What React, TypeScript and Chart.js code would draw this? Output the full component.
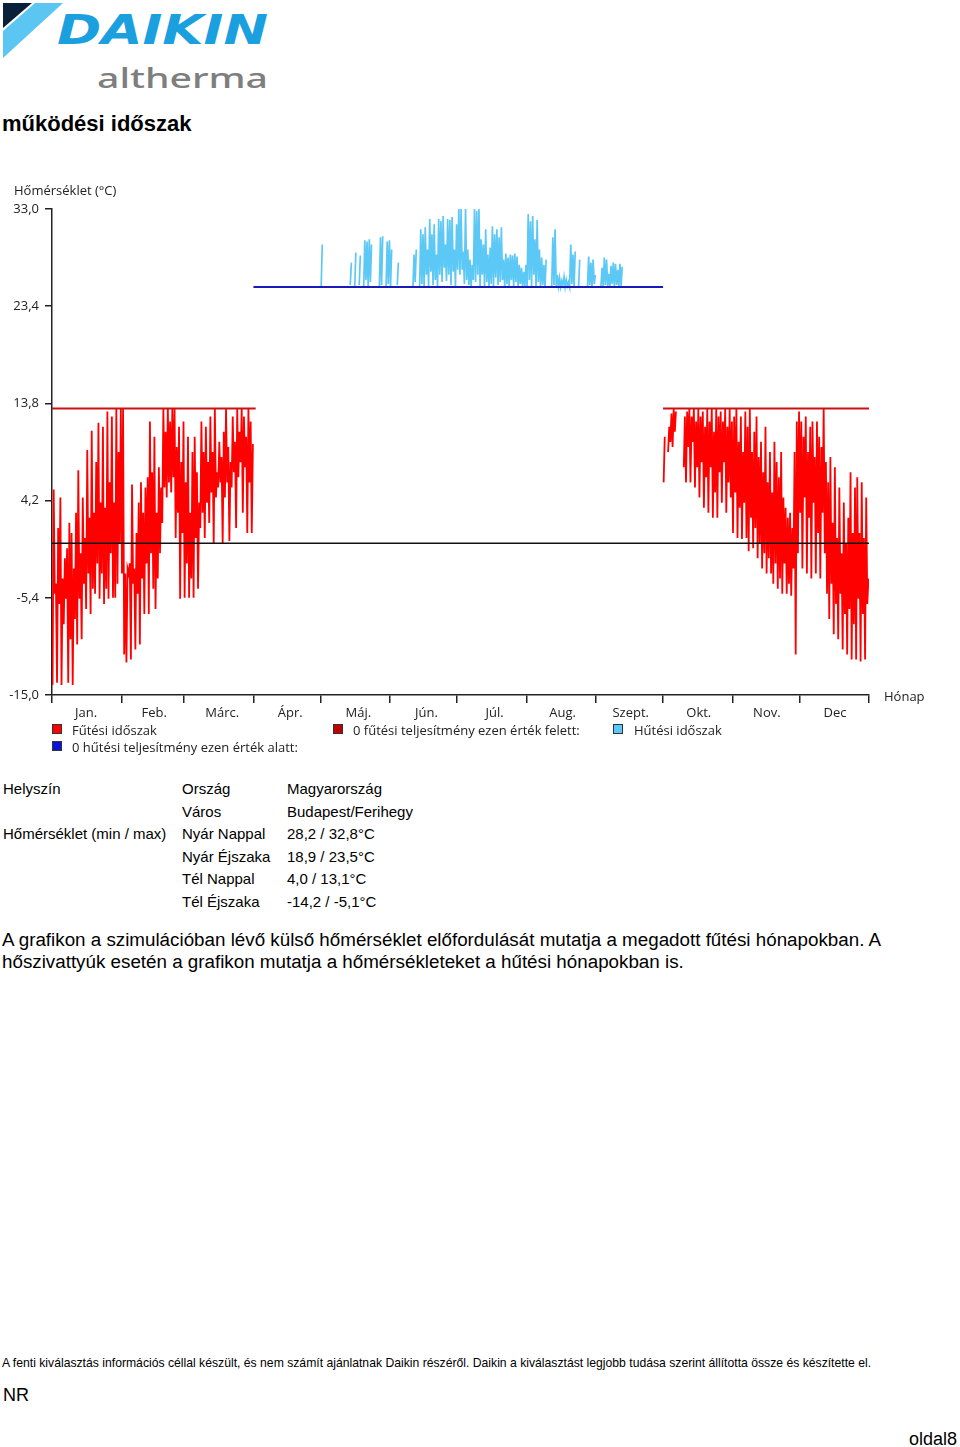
import React, { useEffect, useRef } from "react";
import { Chart, registerables } from "chart.js";

Chart.register(...registerables);

// ---------- data ----------
const months = ["Jan.", "Feb.", "Márc.", "Ápr.", "Máj.", "Jún.", "Júl.", "Aug.", "Szept.", "Okt.", "Nov.", "Dec"];
const monthStartDays = [0, 31, 59, 90, 120, 151, 181, 212, 243, 273, 304, 334, 365];
const yTickValues = [-15.0, -5.4, 4.2, 13.8, 23.4, 33.0];
const heatingLimit = 13.3;
const coolingLimit = 25.3;
const heatingSpringRange = [0, 91];
const heatingAutumnRange = [273, 365];
const coolingRange = [90, 273];

// daily [low, high] outdoor temperatures, heating season Jan–Mar (start day 0)
const heatingSpringStart = 0;
const heatingSpring: (number | null)[][] = [
  // Jan
  [-14.0, 5.3], [-5.0, -4.0], [-13.8, 1.5], [-6.0, 4.5], [-14.0, -3.5], [-8.0, -1.5], [-5.5, -0.5], [-13.8, 2.0],
  [-9.5, 1.0], [-14.0, -2.5], [-7.5, 3.0], [-10.0, 7.2], [-5.5, -1.0], [-9.5, 4.5], [-4.0, 0.5], [-6.5, 9.2],
  [-3.0, 2.5], [-7.0, 11.1], [-4.5, 3.0], [-5.0, 8.0], [-2.0, 11.9], [-5.5, 4.0], [-3.0, 11.5], [-6.0, 3.5],
  [-4.5, 13.0], [-5.5, 6.0], [-1.0, 12.5], [-5.4, 4.0], [-5.4, 13.3], [-4.0, 9.0], [0.0, 13.3],
  // Feb
  [-3.0, 13.3], [-11.0, -3.0], [-11.8, -2.5], [-3.0, -2.0], [-11.5, 5.8], [-4.0, -2.5], [-10.5, 1.0], [-5.0, 4.0],
  [-10.0, 6.0], [-3.5, 3.0], [-7.0, 5.5], [-2.0, 6.5], [-7.0, 12.0], [-1.0, 7.0], [-4.5, 10.5], [-6.5, 3.0],
  [-3.5, 7.5], [-1.0, 5.5], [2.0, 13.3], [5.5, 11.0], [4.5, 13.3], [6.0, 12.0], [5.0, 13.3], [6.5, 13.3],
  [0.5, 9.5], [3.0, 11.5], [-5.5, 8.0], [1.0, 12.0],
  // Mar
  [-5.4, 6.0], [-2.0, 10.5], [-5.4, 3.0], [-3.5, 9.0], [-5.4, 10.5], [0.5, 7.0], [-4.5, 4.0], [1.5, 12.0],
  [3.0, 9.0], [0.5, 11.5], [4.0, 8.0], [2.0, 12.5], [5.0, 9.0], [0.0, 13.3], [4.5, 7.0], [5.5, 10.0],
  [6.0, 8.5], [0.0, 11.0], [4.5, 13.3], [6.0, 9.5], [0.2, 8.0], [5.5, 12.5], [7.0, 10.0], [1.5, 13.3],
  [6.5, 11.0], [8.0, 13.3], [3.0, 12.5], [7.5, 10.5], [1.0, 13.3], [6.0, 12.0], [1.0, 9.8],
];

// daily [low, high] outdoor temperatures, heating season Oct–Dec (start day 273)
const heatingAutumnStart = 273;
const heatingAutumn: (number | null)[][] = [
  // Oct
  [6.0, 10.5], [null, null], [9.0, 11.5], [10.0, 12.8], [9.5, 13.3], [11.0, 13.0], [null, null], [null, null],
  [null, null], [7.5, 12.5], [6.0, 13.0], [9.5, 13.3], [6.0, 12.5], [10.0, 13.3], [5.5, 12.0], [7.5, 13.3],
  [4.5, 12.5], [8.0, 13.0], [3.5, 11.5], [6.5, 13.3], [3.0, 12.0], [7.5, 13.3], [2.5, 11.0], [5.0, 13.3],
  [2.5, 12.5], [7.0, 13.0], [4.0, 12.0], [8.0, 13.3], [3.0, 11.5], [6.0, 13.3], [4.5, 12.0],
  // Nov
  [1.0, 12.5], [5.0, 13.3], [0.5, 10.0], [3.5, 12.5], [0.4, 9.0], [4.0, 13.0], [0.5, 11.5], [-0.8, 13.3],
  [2.5, 9.0], [-0.5, 11.0], [1.5, 12.5], [-1.5, 8.5], [0.0, 10.0], [-2.5, 7.0], [-1.0, 11.5], [-3.0, 6.0],
  [-1.5, 9.0], [-3.0, 5.0], [-4.0, 10.0], [-2.0, 8.0], [-4.5, 6.5], [-3.5, 9.0], [-5.0, 4.5], [-2.0, 3.5],
  [-5.0, 2.5], [-4.0, 3.0], [-5.2, 1.5], [-2.5, 9.0], [-11.0, 12.0], [-1.0, 13.0],
  // Dec
  [3.0, 12.0], [-2.5, 10.5], [4.5, 12.5], [-3.0, 9.0], [2.5, 11.5], [-3.5, 12.0], [4.0, 8.5], [-3.0, 12.0],
  [1.0, 10.5], [-3.5, 9.5], [3.0, 13.3], [-1.0, 8.0], [-5.0, 6.0], [-7.5, 8.5], [-4.0, 2.0], [-9.0, 7.5],
  [-6.0, 0.5], [-9.5, 5.5], [-5.0, -1.0], [-10.5, 4.0], [-7.0, 0.0], [-11.0, 2.5], [-6.5, 7.0], [-11.5, 1.0],
  [-8.0, 5.5], [-11.5, 6.5], [-5.5, 1.0], [-11.7, 6.0], [-7.0, 0.5], [-11.5, 4.5], [-6.0, -3.5],
];

// cooling season: [day of year (1-based), low, high] where temperature exceeds the cooling limit
const coolingDays: number[][] = [
  [121, 25.3, 29.5],
  [134, 25.5, 27.7], [136, 25.3, 28.7], [138, 25.5, 28.4],
  [140, 25.3, 29.9], [141, 26.0, 29.8], [142, 25.3, 30.0], [143, 25.8, 29.5],
  [147, 25.3, 30.2], [148, 25.5, 30.3],
  [150, 25.3, 29.8], [151, 25.6, 29.9], [152, 25.3, 29.0],
  [155, 25.5, 27.7],
  [162, 25.3, 28.5], [163, 25.8, 29.0],
  [165, 25.3, 31.0], [166, 25.6, 30.5], [167, 25.3, 31.2], [168, 26.5, 29.0], [169, 25.4, 32.0], [170, 26.8, 30.5],
  [171, 25.5, 31.5], [172, 26.0, 28.5], [173, 25.3, 32.0], [174, 26.5, 31.8], [175, 25.8, 32.3], [176, 27.2, 29.5],
  [177, 25.9, 32.0], [178, 26.5, 31.9], [179, 25.5, 32.2], [180, 26.8, 29.0], [181, 25.4, 31.5], [182, 27.0, 33.1],
  [183, 26.5, 33.0], [184, 27.0, 28.8], [185, 25.6, 33.1], [186, 26.0, 29.0], [187, 25.5, 28.0], [188, 25.3, 27.5],
  [189, 26.0, 33.0], [190, 25.8, 32.8], [191, 26.5, 33.0], [192, 25.3, 30.0], [193, 26.5, 29.5], [194, 25.4, 31.0],
  [195, 25.8, 28.5], [196, 25.3, 29.2], [197, 25.6, 31.3], [198, 25.4, 30.5], [199, 26.2, 31.0], [200, 25.5, 30.2],
  [201, 25.8, 31.2], [202, 26.0, 28.0], [203, 25.3, 28.6], [204, 25.6, 28.2], [205, 25.3, 28.5], [206, 26.0, 28.4],
  [207, 25.4, 28.6], [208, 25.8, 28.3], [209, 25.3, 27.5], [210, 25.6, 27.2], [211, 25.3, 26.8], [212, 25.4, 27.5],
  [213, 25.3, 32.5], [214, 26.0, 31.8], [215, 25.4, 32.3], [216, 26.5, 30.0], [217, 25.3, 31.9], [218, 25.8, 29.0],
  [219, 25.3, 28.2], [220, 25.5, 27.5], [221, 25.3, 28.0],
  [224, 25.3, 30.2], [225, 25.5, 31.0], [226, 25.3, 26.5], [227, 25.4, 26.2], [228, 25.3, 25.9], [229, 25.5, 26.3],
  [230, 25.3, 26.0], [231, 25.4, 25.8], [232, 25.3, 29.5], [233, 25.6, 28.5], [234, 25.4, 28.8],
  [236, 25.3, 28.0],
  [240, 25.3, 28.3], [241, 25.5, 27.7], [242, 25.3, 28.0], [243, 25.6, 26.5],
  [246, 25.4, 27.2], [247, 25.3, 28.2], [248, 25.5, 28.0], [249, 25.4, 26.6], [250, 25.3, 27.4], [251, 25.6, 27.7],
  [252, 25.3, 27.6], [253, 25.5, 27.0], [254, 25.3, 27.6], [255, 25.4, 27.3],
];

const yAxisTitle = "Hőmérséklet (°C)";
const xAxisTitle = "Hónap";

// ---------- helpers ----------
type Pt = { x: number; y: number | null };

function pairsToPoints(start: number, pairs: (number | null)[][]): Pt[] {
  const pts: Pt[] = [];
  pairs.forEach((p, i) => {
    pts.push({ x: start + i + 0.25, y: p[0] });
    pts.push({ x: start + i + 0.75, y: p[1] });
  });
  return pts;
}

function coolingToPoints(rows: number[][]): Pt[] {
  const pts: Pt[] = [];
  let prev = -10;
  rows.forEach(([d, lo, hi]) => {
    if (d - prev > 1) pts.push({ x: d - 1, y: null });
    pts.push({ x: d - 1 + 0.25, y: lo });
    pts.push({ x: d - 1 + 0.75, y: hi });
    prev = d;
  });
  return pts;
}

const AXIS_FONT = '"Open Sans", "Noto Sans", sans-serif';
const TEXT_COLOR = "#222";

const titlesPlugin = {
  id: "axisTitles",
  afterDraw(chart: any) {
    const { ctx, chartArea } = chart;
    ctx.save();
    ctx.font = `13px ${AXIS_FONT}`;
    ctx.fillStyle = TEXT_COLOR;
    ctx.textBaseline = "middle";
    ctx.textAlign = "left";
    ctx.fillText(yAxisTitle, 14, chartArea.top - 18);
    ctx.fillText(xAxisTitle, chartArea.right + 15, chartArea.bottom + 2);
    ctx.restore();
  },
};

function TemperatureChart() {
  const ref = useRef<HTMLCanvasElement | null>(null);
  useEffect(() => {
    if (!ref.current) return;
    const line = (data: Pt[], color: string, width: number) => ({
      data,
      borderColor: color,
      backgroundColor: color,
      borderWidth: width,
      pointRadius: 0,
      pointHoverRadius: 0,
      tension: 0,
      spanGaps: false,
      fill: false,
    });
    const chart = new Chart(ref.current, {
      type: "line",
      data: {
        datasets: [
          line([{ x: 0, y: 0 }, { x: 365, y: 0 }], "#111", 1.5),
          line([{ x: heatingSpringRange[0], y: heatingLimit }, { x: heatingSpringRange[1], y: heatingLimit }], "#cc1111", 2),
          line([{ x: heatingAutumnRange[0], y: heatingLimit }, { x: heatingAutumnRange[1], y: heatingLimit }], "#cc1111", 2),
          line([{ x: coolingRange[0], y: coolingLimit }, { x: coolingRange[1], y: coolingLimit }], "#1a1ab8", 2),
          line(pairsToPoints(heatingSpringStart, heatingSpring), "#ff0000", 1.8),
          line(pairsToPoints(heatingAutumnStart, heatingAutumn), "#ff0000", 1.8),
          line(coolingToPoints(coolingDays), "#5bc8f5", 1.7),
        ] as any,
      },
      options: {
        animation: false,
        responsive: false,
        events: [],
        layout: { padding: { left: 0, top: 39, right: 91, bottom: 5 } },
        plugins: { legend: { display: false }, tooltip: { enabled: false } },
        scales: {
          x: {
            type: "linear",
            position: "bottom",
            min: 0,
            max: 365,
            afterBuildTicks: (scale: any) => {
              scale.ticks = monthStartDays.map((v) => ({ value: v }));
            },
            afterFit: (scale: any) => {
              scale.height = 8;
            },
            ticks: { display: false },
            grid: { drawOnChartArea: false, drawTicks: true, tickLength: 8, color: TEXT_COLOR, lineWidth: 1.5 },
            border: { display: true, color: TEXT_COLOR, width: 1.5 },
          },
          x2: {
            type: "category",
            position: "bottom",
            labels: months,
            offset: true,
            afterFit: (scale: any) => {
              scale.height = 22;
            },
            grid: { display: false, drawTicks: false, tickLength: 0 },
            border: { display: false },
            ticks: {
              font: { family: AXIS_FONT, size: 13 },
              color: TEXT_COLOR,
              padding: 2,
              maxRotation: 0,
              autoSkip: false,
            },
          },
          y: {
            type: "linear",
            position: "left",
            min: -15,
            max: 33,
            afterBuildTicks: (scale: any) => {
              scale.ticks = yTickValues.map((v) => ({ value: v }));
            },
            afterFit: (scale: any) => {
              scale.width = 52;
            },
            ticks: {
              font: { family: AXIS_FONT, size: 13 },
              color: TEXT_COLOR,
              padding: 6,
              callback: (v: any) => Number(v).toFixed(1).replace(".", ","),
            },
            grid: { drawOnChartArea: false, drawTicks: true, tickLength: 7, color: TEXT_COLOR, lineWidth: 1.5 },
            border: { display: true, color: TEXT_COLOR, width: 1.5 },
          },
        },
      } as any,
      plugins: [titlesPlugin],
    });
    return () => chart.destroy();
  }, []);
  return (
    <canvas
      ref={ref}
      width={960}
      height={560}
      style={{ position: "absolute", left: 0, top: 170, width: 960, height: 560 }}
    />
  );
}

function Swatch({ left, top, color }: { left: number; top: number; color: string }) {
  return (
    <div
      style={{
        position: "absolute",
        left,
        top,
        width: 8,
        height: 8,
        background: color,
        border: "1px solid #333",
      }}
    />
  );
}

function LegendText({ left, top, children }: { left: number; top: number; children: React.ReactNode }) {
  return (
    <div
      style={{
        position: "absolute",
        left,
        top,
        fontFamily: AXIS_FONT,
        fontSize: 13,
        lineHeight: "18px",
        color: TEXT_COLOR,
        whiteSpace: "nowrap",
      }}
    >
      {children}
    </div>
  );
}

const tableLabels = ["Helyszín", "", "Hőmérséklet (min / max)", "", "", ""];
const tableKeys = ["Ország", "Város", "Nyár Nappal", "Nyár Éjszaka", "Tél Nappal", "Tél Éjszaka"];
const tableValues = ["Magyarország", "Budapest/Ferihegy", "28,2 / 32,8°C", "18,9 / 23,5°C", "4,0 / 13,1°C", "-14,2 / -5,1°C"];

function TableColumn({ left, items }: { left: number; items: string[] }) {
  return (
    <div
      style={{
        position: "absolute",
        left,
        top: 778,
        fontSize: 15,
        lineHeight: "22.5px",
        whiteSpace: "nowrap",
      }}
    >
      {items.map((t, i) => (
        <div key={i} style={{ height: 22.5 }}>
          {t}
        </div>
      ))}
    </div>
  );
}

export default function App() {
  return (
    <div
      style={{
        position: "absolute",
        left: 0,
        top: 0,
        width: 960,
        height: 1447,
        overflow: "hidden",
        background: "#fff",
        color: "#000",
        fontFamily: '"Liberation Sans", Arial, sans-serif',
      }}
    >
      <svg width={290} height={100} style={{ position: "absolute", left: 0, top: 0 }}>
        <polygon points="3,3 32,3 3,28" fill="#0b1e3a" />
        <polygon points="35,3 63,3 3,58 3,31" fill="#5cc6f2" />
        <text
          x={57}
          y={44}
          fontFamily="DejaVu Sans"
          fontWeight="bold"
          fontStyle="italic"
          fontSize={41}
          fill="#1a9fdf"
          textLength={211}
          lengthAdjust="spacingAndGlyphs"
        >
          DAIKIN
        </text>
        <text
          x={97}
          y={88}
          fontFamily="Noto Sans"
          fontWeight={500}
          fontSize={27}
          fill="#7e7e7e"
          textLength={171}
          lengthAdjust="spacingAndGlyphs"
        >
          altherma
        </text>
      </svg>

      <div
        style={{
          position: "absolute",
          left: 2,
          top: 110,
          fontSize: 22,
          fontWeight: "bold",
          lineHeight: "28px",
          whiteSpace: "nowrap",
        }}
      >
        működési időszak
      </div>

      <TemperatureChart />

      <Swatch left={52} top={724} color="#ff0000" />
      <LegendText left={72} top={721}>Fűtési időszak</LegendText>
      <Swatch left={333} top={724} color="#c00000" />
      <LegendText left={353} top={721}>0 fűtési teljesítmény ezen érték felett:</LegendText>
      <Swatch left={613} top={724} color="#5bc8f5" />
      <LegendText left={634} top={721}>Hűtési időszak</LegendText>
      <Swatch left={52} top={741} color="#0a14d8" />
      <LegendText left={72} top={738}>0 hűtési teljesítmény ezen érték alatt:</LegendText>

      <TableColumn left={3} items={tableLabels} />
      <TableColumn left={182} items={tableKeys} />
      <TableColumn left={287} items={tableValues} />

      <div
        style={{
          position: "absolute",
          left: 2,
          top: 929,
          fontSize: 18.8,
          lineHeight: "22px",
          whiteSpace: "nowrap",
        }}
      >
        A grafikon a szimulációban lévő külső hőmérséklet előfordulását mutatja a megadott fűtési hónapokban. A
        <br />
        hőszivattyúk esetén a grafikon mutatja a hőmérsékleteket a hűtési hónapokban is.
      </div>

      <div
        style={{
          position: "absolute",
          left: 2,
          top: 1356,
          fontSize: 12.2,
          lineHeight: "15px",
          whiteSpace: "nowrap",
        }}
      >
        A fenti kiválasztás információs céllal készült, és nem számít ajánlatnak Daikin részéről. Daikin a kiválasztást
        legjobb tudása szerint állította össze és készítette el.
      </div>

      <div style={{ position: "absolute", left: 3, top: 1384, fontSize: 18, lineHeight: "22px" }}>NR</div>
      <div style={{ position: "absolute", right: 3, top: 1428, fontSize: 18, lineHeight: "22px" }}>oldal8</div>
    </div>
  );
}
